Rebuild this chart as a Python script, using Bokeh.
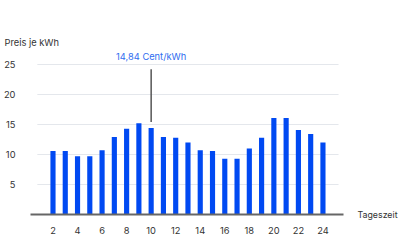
from bokeh.plotting import figure
from bokeh.models import Range1d, FixedTicker, Label, ColumnDataSource, LinearAxis
from bokeh.embed import file_html
from bokeh.resources import INLINE

hours = list(range(2, 25))
prices = [10.6, 10.6, 9.7, 9.7, 10.7, 12.9, 14.3, 15.2, 14.4, 12.9, 12.8, 12.0,
          10.7, 10.6, 9.3, 9.3, 11.0, 12.8, 16.1, 16.1, 14.1, 13.4, 12.0]
x_ticks = list(range(2, 25, 2))
y_ticks = [5, 10, 15, 20, 25]
marked_hour = 10
marked_text = "14,84 Cent/kWh"
y_title = "Preis je kWh"
x_title = "Tageszeit"

FONT = "Inter"
FS = "9.3px"
BAR = "#0049f2"
TXT = "#333333"

p = figure(width=400, height=250, output_backend="svg", toolbar_location=None,
           x_range=Range1d(0.167, 25.675), y_range=Range1d(0, 27.67),
           min_border_left=28, min_border_right=52, min_border_top=48, min_border_bottom=36)
p.outline_line_color = None
p.xgrid.visible = False
p.ygrid.visible = False

p.title.text = y_title
p.title.align = "left"
p.title.offset = -26
p.title.standoff = 1
p.title.text_font = FONT
p.title.text_font_size = FS
p.title.text_font_style = "normal"
p.title.text_color = TXT

# gridlines
p.segment(x0=[0.725] * len(y_ticks), x1=[25.27] * len(y_ticks), y0=y_ticks, y1=y_ticks,
          line_color="#e4e7ec", line_width=1.2)

src = ColumnDataSource(dict(x=hours, top=prices))
p.vbar(x="x", top="top", width=0.42, bottom=0, source=src, fill_color=BAR, line_color=None)

# marker line
p.segment(x0=[marked_hour], x1=[marked_hour], y0=[15.4], y1=[24.2], line_color="#555555", line_width=1.5)
p.add_layout(Label(x=marked_hour, y=26.3, text=marked_text, text_align="center", text_baseline="middle",
                   text_font=FONT, text_font_size=FS, text_color="#2f6df0"))

p.yaxis.ticker = FixedTicker(ticks=y_ticks)
p.yaxis.axis_line_color = None
p.yaxis.major_tick_line_color = None
p.yaxis.minor_tick_line_color = None
p.yaxis.major_label_standoff = 9
p.yaxis.major_label_text_font = FONT
p.yaxis.major_label_text_font_size = FS
p.yaxis.major_label_text_color = TXT

# right axis used only for the x-axis title next to the baseline
right = LinearAxis(ticker=FixedTicker(ticks=[0]), major_label_overrides={0: x_title},
                   axis_line_color=None, major_tick_line_color=None, minor_tick_line_color=None,
                   major_label_standoff=8, major_label_text_font=FONT,
                   major_label_text_font_size="8.8px", major_label_text_color=TXT)
p.add_layout(right, "right")

p.xaxis.ticker = FixedTicker(ticks=x_ticks)
p.xaxis.axis_line_color = "#666666"
p.xaxis.axis_line_width = 2
p.xaxis.major_tick_line_color = None
p.xaxis.minor_tick_line_color = None
p.xaxis.major_label_standoff = 6
p.xaxis.major_label_text_font = FONT
p.xaxis.major_label_text_font_size = FS
p.xaxis.major_label_text_color = TXT

open("out.html", "w").write(file_html(p, INLINE))
